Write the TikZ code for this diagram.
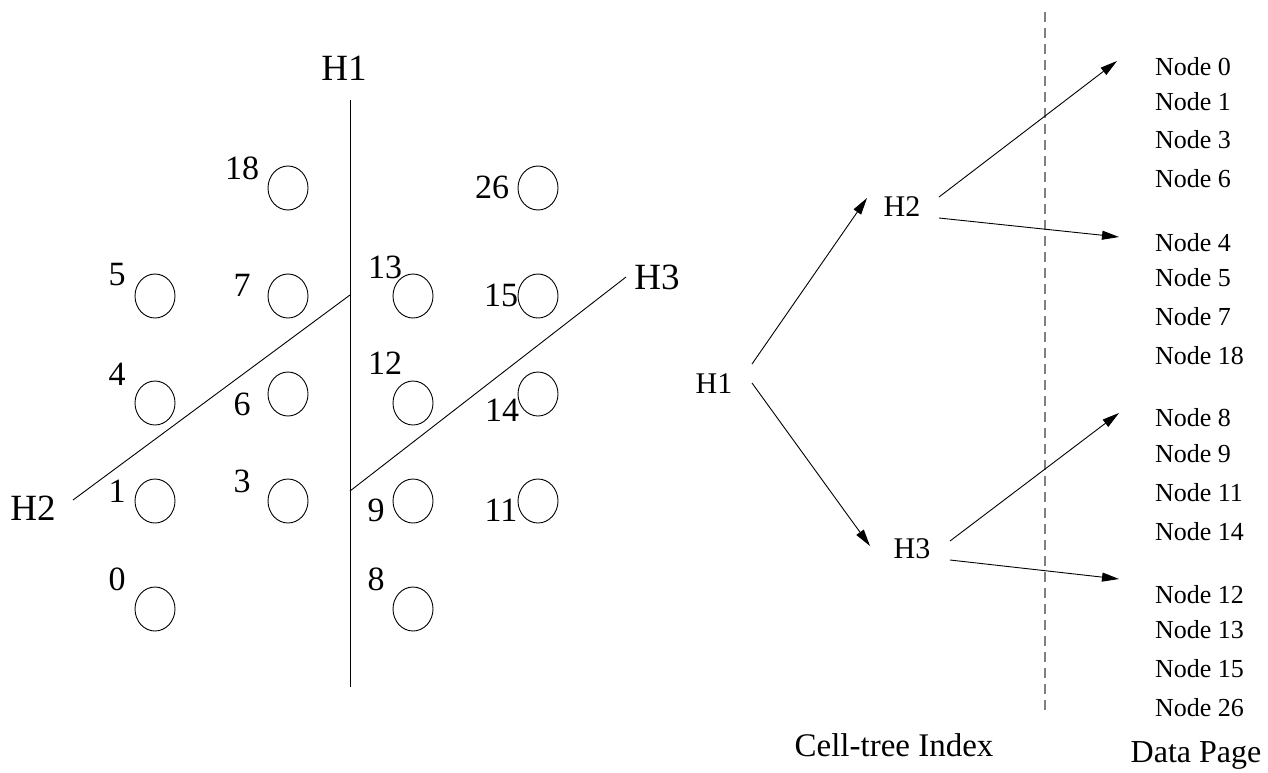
\documentclass[tikz,border=0pt]{standalone}
\usepackage{fontspec}
\setmainfont{Liberation Serif}
\usetikzlibrary{arrows.meta,shapes.geometric}

\begin{document}
\begin{tikzpicture}[x=1pt,y=-1pt,
  every node/.style={inner sep=0pt,outer sep=0pt},
  pt/.style={draw,ellipse,minimum width=40pt,minimum height=44pt,line width=0.9pt},
  num/.style={font=\fontsize{34}{40}\selectfont},
  cut/.style={font=\fontsize{37}{44}\selectfont},
  cutline/.style={line width=0.9pt},
  tnode/.style={font=\fontsize{30}{36}\selectfont},
  page/.style={font=\fontsize{26}{31}\selectfont,anchor=west},
  caption/.style={font=\fontsize{33}{40}\selectfont},
  link/.style={line width=0.9pt,-{Triangle[length=17pt,width=9pt]}},
  sep/.style={draw=black!50,line width=1.2pt,dash pattern=on 10pt off 6pt}]
\useasboundingbox (0,0) rectangle (1268,772);

% ---- grid of points ----
\node[pt] (p18) at (288,188) {};
\node[pt] (p26) at (538,188) {};
\node[pt] (p5)  at (155,296) {};
\node[pt] (p7)  at (288,296) {};
\node[pt] (p13) at (413,296) {};
\node[pt] (p15) at (538,296) {};
\node[pt] (p4)  at (155,403) {};
\node[pt] (p6)  at (288,394) {};
\node[pt] (p12) at (413,403) {};
\node[pt] (p14) at (538,394) {};
\node[pt] (p1)  at (155,501) {};
\node[pt] (p3)  at (288,501) {};
\node[pt] (p9)  at (413,501) {};
\node[pt] (p11) at (538,501) {};
\node[pt] (p0)  at (155,609) {};
\node[pt] (p8)  at (413,609) {};

\node[num] (l18) at (242,168) {18};
\node[num] (l26) at (492,187) {26};
\node[num] (l5)  at (117,275) {5};
\node[num] (l7)  at (242,285) {7};
\node[num] (l13) at (385,267) {13};
\node[num] (l15) at (501,295) {15};
\node[num] (l4)  at (117,374) {4};
\node[num] (l6)  at (242,404) {6};
\node[num] (l12) at (385,363) {12};
\node[num] (l14) at (502,410) {14};
\node[num] (l1)  at (117,491) {1};
\node[num] (l3)  at (242,481) {3};
\node[num] (l9)  at (376,510) {9};
\node[num] (l11) at (501,510) {11};
\node[num] (l0)  at (117,579) {0};
\node[num] (l8)  at (376,579) {8};

% ---- cutting lines ----
\coordinate (h1top) at (350,100);
\coordinate (h1bot) at (350,687);
\coordinate (h2a) at (73,500);
\coordinate (h2b) at (350,295);
\coordinate (h3a) at (350,491);
\coordinate (h3b) at (626,277);
\draw[cutline] (h1top) -- (h1bot);
\draw[cutline] (h2a) -- (h2b);
\draw[cutline] (h3a) -- (h3b);
\node[cut] (H1) at (344,68) {H1};
\node[cut] (H2) at (33,508) {H2};
\node[cut] (H3) at (657,277) {H3};

% ---- cell-tree index ----
\node[tnode] (t1) at (714,384) {H1};
\node[tnode] (t2) at (902,207) {H2};
\node[tnode] (t3) at (912,549) {H3};

% ---- data pages ----
\node[page] (n0)  at (1155,67)  {Node 0};
\node[page] (n1)  at (1155,102) {Node 1};
\node[page] (n3)  at (1155,140) {Node 3};
\node[page] (n6)  at (1155,179) {Node 6};
\node[page] (n4)  at (1155,243) {Node 4};
\node[page] (n5)  at (1155,278) {Node 5};
\node[page] (n7)  at (1155,317) {Node 7};
\node[page] (n18) at (1155,356) {Node 18};
\node[page] (n8)  at (1155,418) {Node 8};
\node[page] (n9)  at (1155,454) {Node 9};
\node[page] (n11) at (1155,493) {Node 11};
\node[page] (n14) at (1155,532) {Node 14};
\node[page] (n12) at (1155,595) {Node 12};
\node[page] (n13) at (1155,630) {Node 13};
\node[page] (n15) at (1155,669) {Node 15};
\node[page] (n26) at (1155,708) {Node 26};

% separator between index and pages
\coordinate (septop) at (1045,12);
\coordinate (sepbot) at (1045,710);
\draw[sep] (septop) -- (sepbot);

% ---- pointers ----
\draw[link] ([shift={(38,-20)}]t1.center) -- ([shift={(-35,-9)}]t2.center);
\draw[link] ([shift={(38,-1)}]t1.center) -- ([shift={(-42,-3)}]t3.center);
\draw[link] ([shift={(37,-10)}]t2.center) -- ([shift={(-38,-6)}]n0.west);
\draw[link] ([shift={(37,11)}]t2.center) -- ([shift={(-36,-6)}]n4.west);
\draw[link] ([shift={(38,-8)}]t3.center) -- ([shift={(-36,-5)}]n8.west);
\draw[link] ([shift={(38,11)}]t3.center) -- ([shift={(-36,-16)}]n12.west);

\node[caption] (idx) at (894,745) {Cell-tree Index};
\node[caption,font=\fontsize{32}{38}\selectfont] (dp) at (1196,755) {Data Page};
\end{tikzpicture}
\end{document}
